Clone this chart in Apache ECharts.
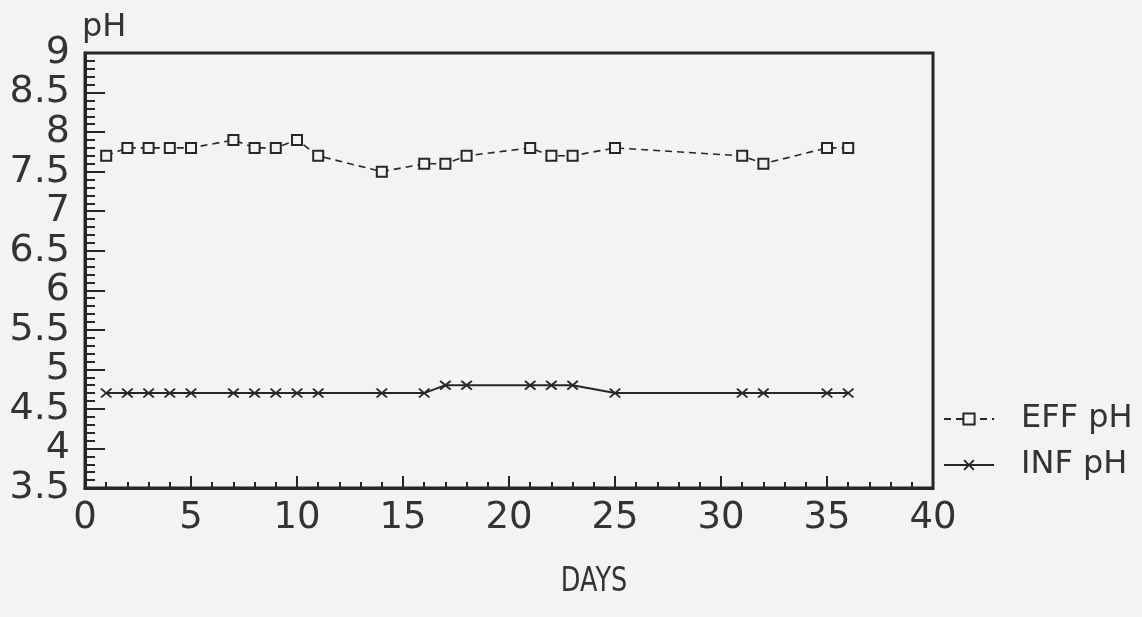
<!DOCTYPE html>
<html>
<head>
<meta charset="utf-8">
<script src="https://cdn.jsdelivr.net/npm/echarts@6/dist/echarts.min.js"></script>
<style>
  html, body { margin: 0; padding: 0; background: #f3f3f1; }
  #chart { width: 1142px; height: 617px; }
</style>
</head>
<body>
<div id="chart"></div>
<script>
// Sampling days and measured pH
const days  = [1, 2, 3, 4, 5, 7, 8, 9, 10, 11, 14, 16, 17, 18, 21, 22, 23, 25, 31, 32, 35, 36];
const effPH = [7.7, 7.8, 7.8, 7.8, 7.8, 7.9, 7.8, 7.8, 7.9, 7.7, 7.5, 7.6, 7.6, 7.7, 7.8, 7.7, 7.7, 7.8, 7.7, 7.6, 7.8, 7.8];
const infPH = [4.7, 4.7, 4.7, 4.7, 4.7, 4.7, 4.7, 4.7, 4.7, 4.7, 4.7, 4.7, 4.8, 4.8, 4.8, 4.8, 4.8, 4.7, 4.7, 4.7, 4.7, 4.7];
const seriesNames = ['EFF pH', 'INF pH'];
const xTitle = 'DAYS';
const yTitle = 'pH';

const INK = '#262626';
const FONT = "'DejaVu Sans', sans-serif";
const crossSymbol = 'path://M0,1.2L1.2,0L5,3.8L8.8,0L10,1.2L6.2,5L10,8.8L8.8,10L5,6.2L1.2,10L0,8.8L3.8,5Z';

const chart = echarts.init(document.getElementById('chart'), null, { renderer: 'canvas' });

chart.setOption({
  backgroundColor: '#f3f3f1',
  animation: false,
  grid: {
    left: 85, right: 209, top: 53, bottom: 129,
    show: true, borderColor: INK, borderWidth: 3, backgroundColor: 'transparent'
  },
  xAxis: {
    type: 'value', min: 0, max: 40, interval: 5,
    axisLine: { show: true, lineStyle: { color: INK, width: 3 } },
    axisTick: { show: true, inside: true, length: 12, lineStyle: { color: INK, width: 2 } },
    minorTick: { show: true, splitNumber: 5, length: 6, lineStyle: { color: INK, width: 2 } },
    splitLine: { show: false },
    axisLabel: { color: '#333', fontFamily: FONT, fontSize: 37, margin: 12 }
  },
  yAxis: {
    type: 'value', min: 3.5, max: 9, interval: 0.5,
    axisLine: { show: true, lineStyle: { color: INK, width: 3 } },
    axisTick: { show: true, inside: true, length: 20, lineStyle: { color: INK, width: 2 } },
    minorTick: { show: true, splitNumber: 5, length: 10, lineStyle: { color: INK, width: 2 } },
    splitLine: { show: false },
    axisLabel: { color: '#333', fontFamily: FONT, fontSize: 38, margin: 15 }
  },
  legend: {
    data: seriesNames,
    orient: 'vertical',
    left: 938, top: 398,
    itemWidth: 50, itemHeight: 14, itemGap: 14,
    textStyle: { color: '#333', fontFamily: FONT, fontSize: 32, padding: [0, 0, 0, 22] }
  },
  graphic: [
    {
      type: 'text', left: 82, top: 12,
      style: { text: yTitle, fill: '#333', font: '32px ' + FONT }
    },
    {
      type: 'text', x: 594, y: 582, scaleX: 0.75,
      style: { text: xTitle, fill: '#333', font: '34px ' + FONT, textAlign: 'center', textVerticalAlign: 'middle' }
    }
  ],
  series: [
    {
      name: seriesNames[0], type: 'line',
      data: days.map((d, i) => [d, effPH[i]]),
      symbol: 'rect', symbolSize: 10,
      itemStyle: { color: '#f3f3f1', borderColor: INK, borderWidth: 2 },
      lineStyle: { color: INK, width: 1.6, type: [7, 5] }
    },
    {
      name: seriesNames[1], type: 'line',
      data: days.map((d, i) => [d, infPH[i]]),
      symbol: crossSymbol, symbolSize: [12, 10],
      itemStyle: { color: INK, borderColor: INK, borderWidth: 0 },
      lineStyle: { color: INK, width: 2 }
    }
  ]
});
</script>
</body>
</html>
